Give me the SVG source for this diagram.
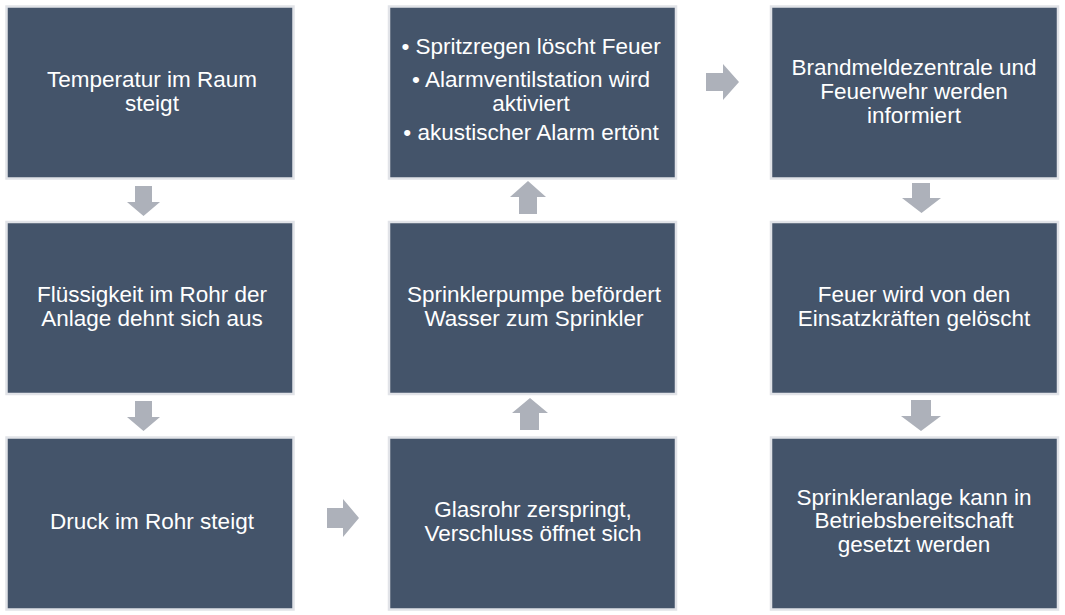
<svg xmlns="http://www.w3.org/2000/svg" width="1065" height="615" viewBox="0 0 1065 615">
<style>
.box{fill:#44546A;stroke:#E1E3E8;stroke-width:2.5}
.t{fill:#FFFFFF;font-family:"Liberation Sans",Arial,sans-serif;font-size:22.5px;text-anchor:middle}
.arr{fill:#ADB1BA}
</style>
<rect width="1065" height="615" fill="#FFFFFF"/>
<g id="n1"><rect class="box" x="6.5" y="6.5" width="287" height="172"/>
<text class="t"><tspan x="152" y="87">Temperatur im Raum</tspan><tspan x="152" y="111">steigt</tspan></text></g>
<g id="n2"><rect class="box" x="6.5" y="222" width="287" height="172"/>
<text class="t"><tspan x="152" y="302">Flüssigkeit im Rohr der</tspan><tspan x="152" y="326">Anlage dehnt sich aus</tspan></text></g>
<g id="n3"><rect class="box" x="6.5" y="437.5" width="287" height="172"/>
<text class="t"><tspan x="152" y="529">Druck im Rohr steigt</tspan></text></g>
<g id="n4"><rect class="box" x="389" y="437.5" width="287" height="172"/>
<text class="t"><tspan x="533" y="517">Glasrohr zerspringt,</tspan><tspan x="533" y="541">Verschluss öffnet sich</tspan></text></g>
<g id="n5"><rect class="box" x="389" y="222" width="287" height="172"/>
<text class="t"><tspan x="534" y="302">Sprinklerpumpe befördert</tspan><tspan x="534" y="326">Wasser zum Sprinkler</tspan></text></g>
<g id="n6"><rect class="box" x="389" y="6.5" width="287" height="172"/>
<text class="t"><tspan x="531" y="53.5">• Spritzregen löscht Feuer</tspan><tspan x="531" y="86.5">• Alarmventilstation wird</tspan><tspan x="531" y="110.5">aktiviert</tspan><tspan x="531" y="139.5">• akustischer Alarm ertönt</tspan></text></g>
<g id="n7"><rect class="box" x="771" y="6.5" width="287" height="172"/>
<text class="t"><tspan x="914" y="75">Brandmeldezentrale und</tspan><tspan x="914" y="99">Feuerwehr werden</tspan><tspan x="914" y="123">informiert</tspan></text></g>
<g id="n8"><rect class="box" x="771" y="222" width="287" height="172"/>
<text class="t"><tspan x="914" y="302">Feuer wird von den</tspan><tspan x="914" y="326">Einsatzkräften gelöscht</tspan></text></g>
<g id="n9"><rect class="box" x="771" y="437.5" width="287" height="172"/>
<text class="t"><tspan x="914" y="504.5">Sprinkleranlage kann in</tspan><tspan x="914" y="528">Betriebsbereitschaft</tspan><tspan x="914" y="551.5">gesetzt werden</tspan></text></g>
<g id="connectors">
<polygon class="arr" points="135,186 152,186 152,202 160,202 143.5,216 127,202 135,202"/>
<polygon class="arr" points="135,401 152,401 152,417 160,417 143.5,431 127,417 135,417"/>
<polygon class="arr" points="327,508 343,508 343,499 359,518 343,537 343,528 327,528"/>
<polygon class="arr" points="519,214 537,214 537,197 546,197 528,181 510,197 519,197"/>
<polygon class="arr" points="520,430 539,430 539,413 548,413 530,398 512,413 520,413"/>
<polygon class="arr" points="706,73 723,73 723,64 739,82 723,100 723,91 706,91"/>
<polygon class="arr" points="912,183 930,183 930,198 941,198 921.5,213 902,198 912,198"/>
<polygon class="arr" points="911,400 931,400 931,416 941,416 921,431 901,416 911,416"/>
</g>
</svg>
